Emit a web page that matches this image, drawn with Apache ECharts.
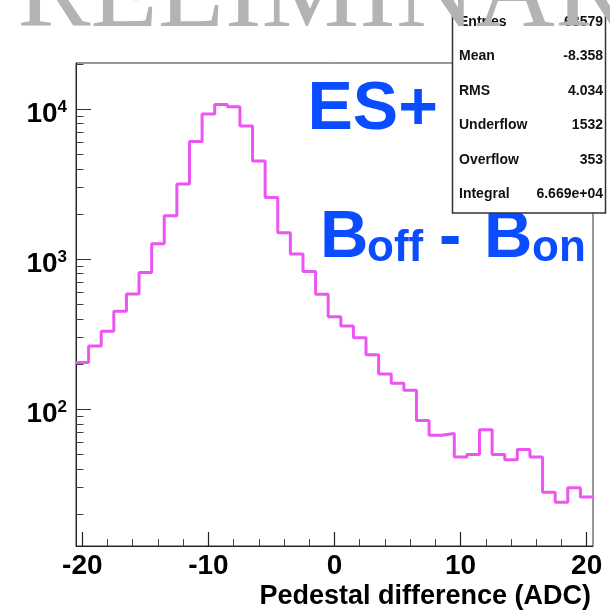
<!DOCTYPE html>
<html>
<head>
<meta charset="utf-8">
<script src="https://cdn.jsdelivr.net/npm/echarts@6/dist/echarts.min.js"></script>
<style>
  html, body { margin: 0; padding: 0; background: #fff; }
  #chart { width: 610px; height: 611px; }
</style>
</head>
<body>
<div id="chart"></div>
<script>
// Pedestal difference histogram, ES+ (B off - B on), 1 ADC bins
const binCenters = [-20, -19, -18, -17, -16, -15, -14, -13, -12, -11, -10, -9, -8, -7, -6, -5, -4, -3, -2, -1,
  0, 1, 2, 3, 4, 5, 6, 7, 8, 9, 10, 11, 12, 13, 14, 15, 16, 17, 18, 19, 20];
const binCounts = [205, 264, 331, 450, 587, 815, 1265, 1944, 3162, 6085, 9260, 10740, 10360, 7700, 4500, 2578, 1497, 1084, 826, 584,
  414, 359, 300, 231, 172, 149, 134, 84, 67, 69, 48, 50, 73, 50, 46, 54, 48, 28, 24, 30, 26];
const binWidth = 1;

// Axis ticks
const xMajorTicks = [-20, -10, 0, 10, 20];
const xMinorTicks = [-18, -16, -14, -12, -8, -6, -4, -2, 2, 4, 6, 8, 12, 14, 16, 18];
const yMajorTicks = [100, 1000, 10000];
const yMinorTicks = [20, 30, 40, 50, 60, 70, 80, 90, 200, 300, 400, 500, 600, 700, 800, 900,
  2000, 3000, 4000, 5000, 6000, 7000, 8000, 9000, 20000];

// Statistics box
const statNames = ['Entries', 'Mean', 'RMS', 'Underflow', 'Overflow', 'Integral'];
const statValues = ['68579', '-8.358', '4.034', '1532', '353', '6.669e+04'];

const xTitle = 'Pedestal difference (ADC)';
const watermark = 'PRELIMINARY';

const SANS = '"Liberation Sans", Arial, Helvetica, sans-serif';
const SERIF = '"Liberation Serif", "Times New Roman", serif';
const BLUE = '#0a4cff';

// Step outline from bin low edges, closed at the last bin's upper edge
const steps = binCenters.map((c, i) => [c - binWidth / 2, binCounts[i]]);
steps.push([binCenters[binCenters.length - 1] + binWidth / 2, binCounts[binCounts.length - 1]]);

const chart = echarts.init(document.getElementById('chart'), null, { renderer: 'canvas' });

const statText = [];
statNames.forEach((name, i) => {
  const y = 22 + 34.5 * i;
  statText.push({
    type: 'text', z: 11, x: 459, y: y,
    style: { text: name, fill: '#111', font: 'bold 14px ' + SANS, align: 'left', verticalAlign: 'middle' }
  });
  statText.push({
    type: 'text', z: 11, x: 603, y: y,
    style: { text: statValues[i], fill: '#111', font: 'bold 14px ' + SANS, align: 'right', verticalAlign: 'middle' }
  });
});

const option = {
  backgroundColor: '#fff',
  animation: false,
  grid: {
    left: 76, right: 17, top: 63, bottom: 65,
    show: true, borderColor: '#333', borderWidth: 1, backgroundColor: 'transparent',
    containLabel: false, outerBoundsMode: 'none'
  },
  xAxis: [{
    type: 'value', min: -20.5, max: 20.5,
    axisLine: { show: true, onZero: false, lineStyle: { color: '#222', width: 1 } },
    axisTick: { show: true, inside: true, length: 14, customValues: xMajorTicks, lineStyle: { color: '#222', width: 1.2 } },
    axisLabel: {
      show: true, customValues: xMajorTicks, margin: 6,
      color: '#000', fontSize: 28, fontWeight: 'bold', fontFamily: SANS
    },
    splitLine: { show: false },
    name: xTitle, nameLocation: 'end', nameGap: -2, nameMoveOverlap: false,
    nameTextStyle: {
      color: '#000', fontSize: 27, fontWeight: 'bold', fontFamily: SANS,
      align: 'right', verticalAlign: 'top', padding: [37, 0, 0, 0]
    }
  }, {
    type: 'value', min: -20.5, max: 20.5, position: 'bottom',
    axisLine: { show: false, onZero: false },
    axisTick: { show: true, inside: true, length: 7, customValues: xMinorTicks, lineStyle: { color: '#444', width: 1 } },
    axisLabel: { show: false },
    splitLine: { show: false }
  }],
  yAxis: [{
    type: 'log', logBase: 10, min: 12.27, max: 20270, position: 'left',
    axisLine: { show: true, onZero: false, lineStyle: { color: '#222', width: 1 } },
    axisTick: { show: true, inside: true, length: 15, customValues: yMajorTicks, lineStyle: { color: '#333', width: 1 } },
    axisLabel: {
      show: true, customValues: yMajorTicks, margin: 9, padding: [10, 0, 0, 0],
      formatter: function (v) {
        const e = Math.round(Math.log10(v));
        return '{b|10}{s|' + e + '}';
      },
      rich: {
        b: { fontSize: 28, fontWeight: 'bold', fontFamily: SANS, color: '#000', lineHeight: 30 },
        s: { fontSize: 17, fontWeight: 'bold', fontFamily: SANS, color: '#000', lineHeight: 17, verticalAlign: 'top' }
      }
    },
    splitLine: { show: false },
    minorTick: { show: false }
  }, {
    type: 'log', logBase: 10, min: 12.27, max: 20270, position: 'left',
    axisLine: { show: false, onZero: false },
    axisTick: { show: true, inside: true, length: 7.5, customValues: yMinorTicks, lineStyle: { color: '#444', width: 1 } },
    axisLabel: { show: false },
    splitLine: { show: false }
  }],
  series: [{
    type: 'line', xAxisIndex: 0, yAxisIndex: 0,
    step: 'end', symbol: 'none', clip: true,
    lineStyle: { color: '#ec55f2', width: 3 },
    data: steps, z: 3
  }],
  graphic: [
    {
      type: 'text', z: 5, x: 307.5, y: 110.5,
      style: { text: 'ES+', fill: BLUE, font: 'bold 68px ' + SANS, verticalAlign: 'middle' }
    },
    {
      type: 'text', z: 5, x: 320, y: 239,
      style: { text: 'B', fill: BLUE, font: 'bold 67px ' + SANS, verticalAlign: 'middle' }
    },
    {
      type: 'text', z: 5, x: 367, y: 248.5,
      style: { text: 'off', fill: BLUE, font: 'bold 44px ' + SANS, verticalAlign: 'middle' }
    },
    {
      type: 'text', z: 5, x: 439, y: 239,
      style: { text: '-', fill: BLUE, font: 'bold 67px ' + SANS, verticalAlign: 'middle' }
    },
    {
      type: 'text', z: 5, x: 484, y: 239,
      style: { text: 'B', fill: BLUE, font: 'bold 67px ' + SANS, verticalAlign: 'middle' }
    },
    {
      type: 'text', z: 5, x: 532, y: 248.5,
      style: { text: 'on', fill: BLUE, font: 'bold 44px ' + SANS, verticalAlign: 'middle' }
    },
    {
      type: 'rect', z: 10,
      shape: { x: 452.5, y: -1, width: 153, height: 214 },
      style: { fill: '#fff', stroke: '#333', lineWidth: 1.5 }
    }
  ].concat(statText).concat([
    {
      type: 'text', z: 20, x: -44, y: -3,
      style: { text: watermark, fill: '#b3b3b3', font: '110px ' + SERIF, verticalAlign: 'middle' }
    }
  ])
};

chart.setOption(option);
</script>
</body>
</html>
